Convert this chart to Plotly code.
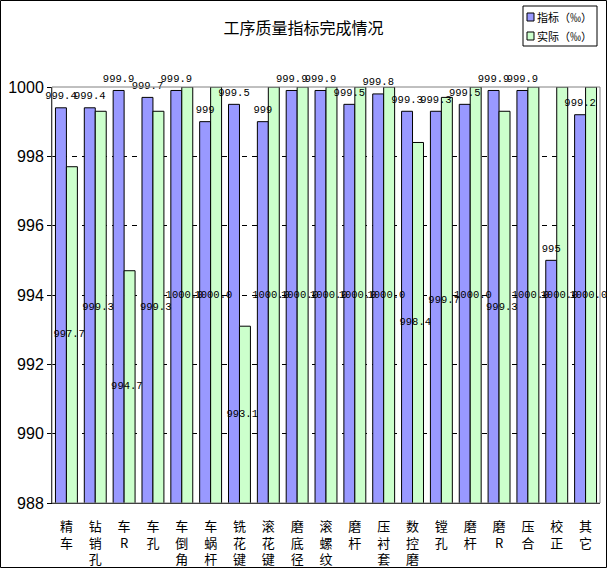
import plotly.graph_objects as go

# data
categories = ["精<br>车", "钻<br>销<br>孔", "车<br>R", "车<br>孔", "车<br>倒<br>角", "车<br>蜗<br>杆",
              "铣<br>花<br>键", "滚<br>花<br>键", "磨<br>底<br>径", "滚<br>螺<br>纹", "磨<br>杆",
              "压<br>衬<br>套", "数<br>控<br>磨", "镗<br>孔", "磨<br>杆", "磨<br>R", "压<br>合",
              "校<br>正", "其<br>它"]
target = [999.4, 999.4, 999.9, 999.7, 999.9, 999, 999.5, 999, 999.9, 999.9, 999.5,
          999.8, 999.3, 999.3, 999.5, 999.9, 999.9, 995, 999.2]
actual = [997.7, 999.3, 994.7, 999.3, 1000, 1000, 993.1, 1000, 1000, 1000, 1000,
          1000, 998.4, 999.7, 1000, 999.3, 1000, 1000, 1000]
y_ticks = [988, 990, 992, 994, 996, 998, 1000]
y_min, y_max = 988, 1000

W, H = 607, 568
ML, MR, MT, MB = 52, 7, 87, 65
pw, ph = W - ML - MR, H - MT - MB
bargap = 0.24
bw = (1 - bargap) / 2

idx = list(range(len(categories)))
lab_font = dict(family="Liberation Mono", size=10.5, color="black")

fig = go.Figure()
fig.add_trace(go.Bar(x=idx, y=target, name="指标（‰）", showlegend=False,
                     marker=dict(color="#9999FF", line=dict(color="black", width=1))))
fig.add_trace(go.Bar(x=idx, y=actual, name="实际（‰）", showlegend=False,
                     marker=dict(color="#CCFFCC", line=dict(color="black", width=1))))

# data labels: blue above the bar (invisible marker gives a small gap), green mid-bar
fig.add_trace(go.Scatter(x=[i - bw / 2 for i in idx], y=target, mode="markers+text",
                         marker=dict(size=8, opacity=0),
                         text=[f"{v:g}" for v in target], textposition="top center",
                         textfont=lab_font, showlegend=False, cliponaxis=False,
                         hoverinfo="skip"))
fig.add_trace(go.Scatter(x=[i + bw / 4 for i in idx], y=[(y_min + v) / 2 for v in actual],
                         mode="text", text=[f"{v:.1f}" for v in actual],
                         textposition="middle center", textfont=lab_font,
                         showlegend=False, cliponaxis=False, hoverinfo="skip"))

fig.update_layout(
    width=W, height=H, barmode="group", bargap=bargap, bargroupgap=0,
    plot_bgcolor="white", paper_bgcolor="white",
    margin=dict(l=ML, r=MR, t=MT, b=MB, autoexpand=False),
    font=dict(family="Noto Sans CJK SC", color="black"),
    title=dict(text="工序质量指标完成情况", x=0.5, xanchor="center", y=1 - 28 / H,
               yanchor="middle", font=dict(size=16, family="Noto Sans CJK SC")),
)
fig.update_yaxes(range=[y_min, y_max], tickvals=y_ticks, showline=True, linecolor="black",
                 linewidth=1, ticks="outside", ticklen=4, tickcolor="black",
                 showgrid=True, gridcolor="black", griddash="5px,5px", gridwidth=1,
                 tickfont=dict(family="Liberation Sans", size=16), zeroline=False,
                 automargin=False)
fig.update_xaxes(range=[-0.5, len(categories) - 0.5], tickvals=idx, ticktext=categories,
                 showline=True, linecolor="black", linewidth=1, ticks="", showgrid=False,
                 tickfont=dict(size=13), tickangle=0, zeroline=False, ticklabelstandoff=11,
                 automargin=False)

# grey frame of plot area, black outer border of chart
fig.add_shape(type="rect", xref="paper", yref="paper", x0=0, x1=1, y0=0, y1=1,
              line=dict(color="#808080", width=1), layer="above")
fig.add_shape(type="rect", xref="paper", yref="paper",
              x0=(0.5 - ML) / pw, x1=(W - 0.5 - ML) / pw,
              y0=-(MB - 0.5) / ph, y1=(H - MB - 0.5) / ph,
              line=dict(color="black", width=1))


# legend box drawn by hand (pixel positions converted to paper coords)
def px_x(p):
    return (p - ML) / pw


def px_y(p):
    return (H - MB - p) / ph


fig.add_shape(type="rect", xref="paper", yref="paper", x0=px_x(523), x1=px_x(597),
              y0=px_y(46), y1=px_y(6), line=dict(color="black", width=1), fillcolor="white")
for tr, ty in [(fig.data[0], 17), (fig.data[1], 36)]:
    fig.add_shape(type="rect", xref="paper", yref="paper", x0=px_x(527), x1=px_x(534),
                  y0=px_y(ty + 4), y1=px_y(ty - 4), fillcolor=tr.marker.color,
                  line=dict(color="black", width=1))
    fig.add_annotation(x=px_x(535), y=px_y(ty), xref="paper", yref="paper",
                       xanchor="left", yanchor="middle", text=tr.name, showarrow=False,
                       font=dict(size=11, family="Noto Sans CJK SC"))

# page body has a default 8px margin; remove it so the chart sits at the window corner
fig.write_html("out.html", config={"displayModeBar": False},
               post_script="document.body.style.margin='0';")
